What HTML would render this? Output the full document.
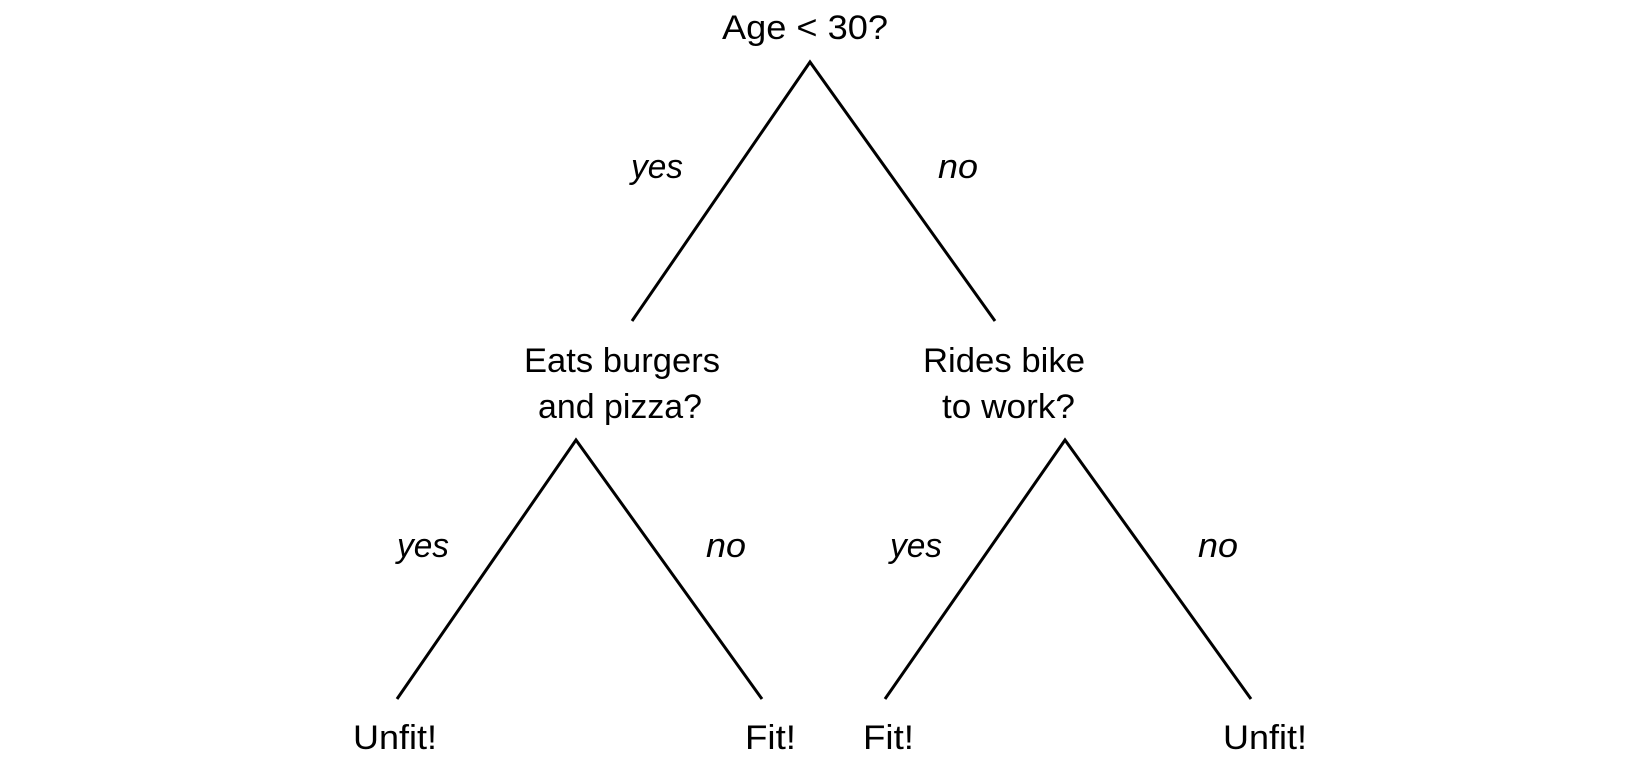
<!DOCTYPE html>
<html><head><meta charset="utf-8"><style>
html,body{margin:0;padding:0;background:#fff;}
svg{display:block;}
text{font-family:"Liberation Sans",sans-serif;font-size:34px;fill:#000;}
.i{font-style:italic;}
</style></head><body>
<svg width="1650" height="759" viewBox="0 0 1650 759">
<g stroke="#000" stroke-width="3" fill="none" stroke-linejoin="miter">
<polyline points="632,321 810,62 995,321"/>
<polyline points="397,699 576,440 762,699"/>
<polyline points="885,699 1065,440 1251,699"/>
</g>
<text x="722" y="39" textLength="166" lengthAdjust="spacingAndGlyphs">Age &lt; 30?</text>
<text class="i" x="631" y="178" textLength="52" lengthAdjust="spacingAndGlyphs">yes</text>
<text class="i" x="938" y="178" textLength="40" lengthAdjust="spacingAndGlyphs">no</text>
<text x="524" y="372" textLength="196" lengthAdjust="spacingAndGlyphs">Eats burgers</text>
<text x="538" y="418" textLength="164" lengthAdjust="spacingAndGlyphs">and pizza?</text>
<text x="923" y="372" textLength="162" lengthAdjust="spacingAndGlyphs">Rides bike</text>
<text x="942" y="418" textLength="133" lengthAdjust="spacingAndGlyphs">to work?</text>
<text class="i" x="397" y="557" textLength="52" lengthAdjust="spacingAndGlyphs">yes</text>
<text class="i" x="706" y="557" textLength="40" lengthAdjust="spacingAndGlyphs">no</text>
<text class="i" x="890" y="557" textLength="52" lengthAdjust="spacingAndGlyphs">yes</text>
<text class="i" x="1198" y="557" textLength="40" lengthAdjust="spacingAndGlyphs">no</text>
<text x="353" y="749" textLength="84" lengthAdjust="spacingAndGlyphs">Unfit!</text>
<text x="745" y="749" textLength="51" lengthAdjust="spacingAndGlyphs">Fit!</text>
<text x="863" y="749" textLength="51" lengthAdjust="spacingAndGlyphs">Fit!</text>
<text x="1223" y="749" textLength="84" lengthAdjust="spacingAndGlyphs">Unfit!</text>
</svg>
</body></html>
